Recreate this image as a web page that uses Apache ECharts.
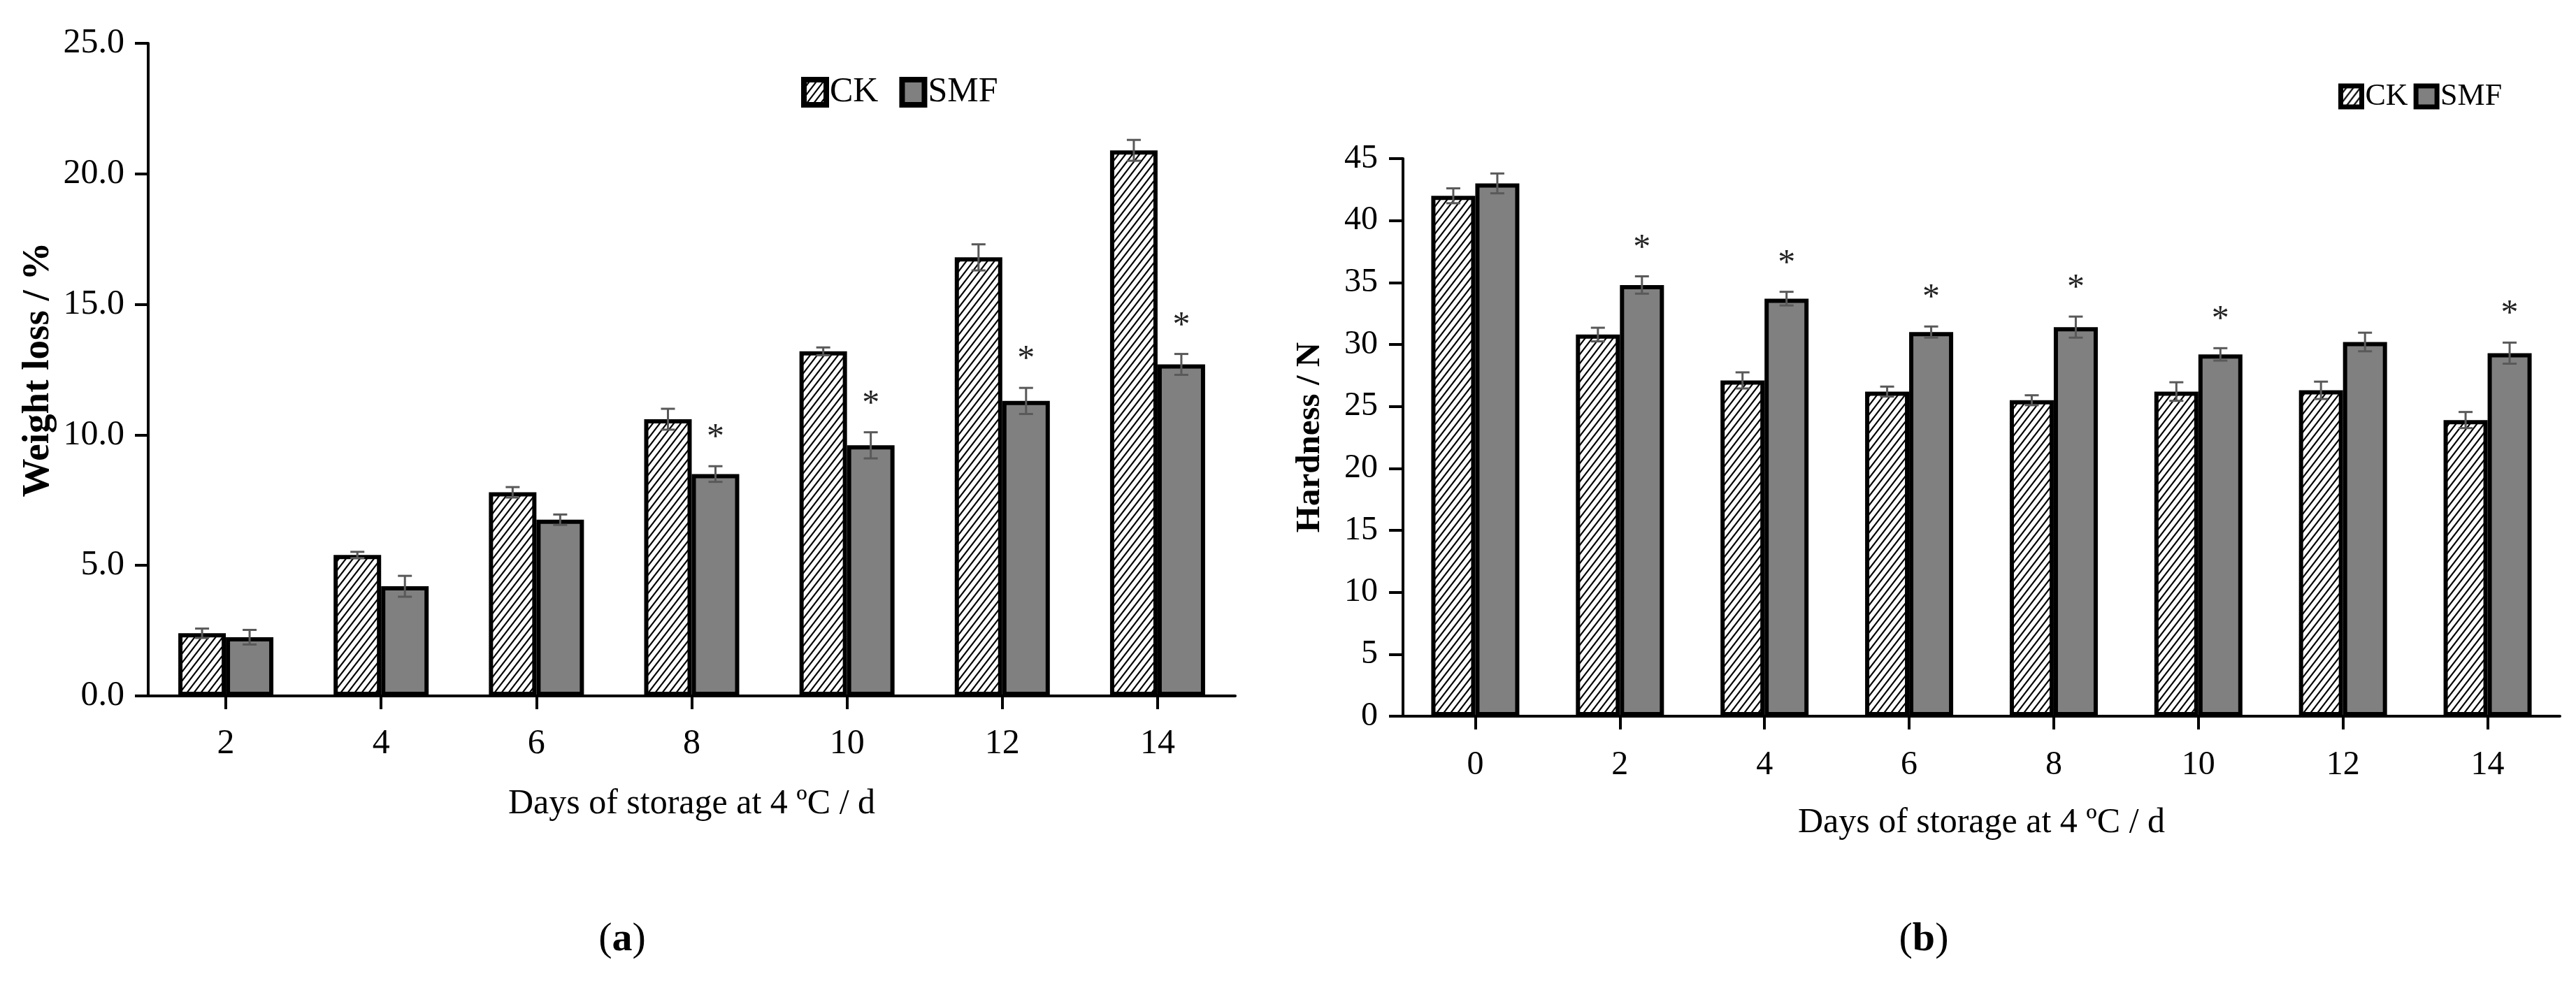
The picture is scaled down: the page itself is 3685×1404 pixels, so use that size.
<!DOCTYPE html>
<html>
<head>
<meta charset="utf-8">
<script src="https://cdn.jsdelivr.net/npm/echarts@6/dist/echarts.min.js"></script>
<style>
  html, body { margin: 0; padding: 0; background: #fff; }
  #main { width: 3685px; height: 1404px; }
</style>
</head>
<body>
<div id="main"></div>
<script>
// (a) weight loss
var daysA = ['2', '4', '6', '8', '10', '12', '14'];
var weightCK = [2.4, 5.4, 7.8, 10.6, 13.2, 16.8, 20.9];
var weightSMF = [2.25, 4.2, 6.75, 8.5, 9.6, 11.3, 12.7];
var weightCKErr = [0.18, 0.12, 0.2, 0.4, 0.15, 0.5, 0.4];
var weightSMFErr = [0.28, 0.4, 0.2, 0.3, 0.5, 0.5, 0.4];
var weightStar = [0, 0, 0, 1, 1, 1, 1];
var weightTicks = { min: 0, max: 25, interval: 5 };

// (b) hardness
var daysB = ['0', '2', '4', '6', '8', '10', '12', '14'];
var hardCK = [42.0, 30.8, 27.1, 26.2, 25.5, 26.2, 26.3, 23.9];
var hardSMF = [43.0, 34.8, 33.7, 31.0, 31.4, 29.2, 30.2, 29.3];
var hardCKErr = [0.6, 0.55, 0.65, 0.4, 0.4, 0.75, 0.7, 0.65];
var hardSMFErr = [0.8, 0.7, 0.55, 0.45, 0.85, 0.5, 0.75, 0.85];
var hardStar = [0, 1, 1, 1, 1, 1, 0, 1];
var hardTicks = { min: 0, max: 45, interval: 5 };

(function () {
  var FONT = '"Liberation Serif", "Times New Roman", serif';
  var myChart = echarts.init(document.getElementById('main'));

  // hatch tile for CK bars
  var tile = document.createElement('canvas');
  tile.width = 10;
  tile.height = 13;
  var ctx = tile.getContext('2d');
  ctx.fillStyle = '#fff';
  ctx.fillRect(0, 0, 10, 13);
  ctx.strokeStyle = '#000';
  ctx.lineWidth = 2.2;
  ctx.beginPath();
  ctx.moveTo(-1, 14.3); ctx.lineTo(11, -1.3);
  ctx.moveTo(-11, 14.3); ctx.lineTo(1, -1.3);
  ctx.moveTo(9, 14.3); ctx.lineTo(21, -1.3);
  ctx.stroke();
  var hatch = { image: tile, repeat: 'repeat' };

  function errData(cats, vals, errs, stars) {
    return cats.map(function (c, i) {
      return [i, vals[i], errs[i], stars ? stars[i] : 0];
    });
  }

  // error bar + asterisk
  function errRender(offset) {
    return function (params, api) {
      var cat = api.value(0), val = api.value(1), err = api.value(2), star = api.value(3);
      var top = api.coord([cat, val + err]);
      var bot = api.coord([cat, val - err]);
      var x = top[0] + offset;
      var st = { stroke: '#595959', lineWidth: 3 };
      var kids = [
        { type: 'line', shape: { x1: x, y1: top[1], x2: x, y2: bot[1] }, style: st },
        { type: 'line', shape: { x1: x - 10, y1: top[1], x2: x + 10, y2: top[1] }, style: st },
        { type: 'line', shape: { x1: x - 10, y1: bot[1], x2: x + 10, y2: bot[1] }, style: st }
      ];
      if (star) {
        kids.push({
          type: 'text', x: x, y: top[1] - 40,
          style: { text: '*', fontSize: 50, fontFamily: FONT, fill: '#222', align: 'center', verticalAlign: 'middle' }
        });
      }
      return { type: 'group', children: kids };
    };
  }

  var axisLine = { show: true, lineStyle: { color: '#000', width: 4 } };
  var axisTick = { show: true, length: 19, lineStyle: { color: '#000', width: 4 } };

  var option = {
    backgroundColor: '#fff',
    animation: false,
    legend: [{
      data: ['CK', 'SMF'],
      left: 1141, top: 102,
      itemWidth: 32, itemHeight: 36, itemGap: 30,
      icon: 'rect',
      itemStyle: { borderWidth: 8, borderColor: '#000' },
      textStyle: { fontFamily: FONT, fontSize: 50, color: '#000' }
    }, {
      data: ['CK', 'SMF'],
      left: 3340, top: 111,
      itemWidth: 30, itemHeight: 30, itemGap: 8,
      icon: 'rect',
      itemStyle: { borderWidth: 7, borderColor: '#000' },
      textStyle: { fontFamily: FONT, fontSize: 44, color: '#000' }
    }],
    grid: [
      { left: 212, top: 62, width: 1555, height: 934 },
      { left: 2007, top: 227, width: 1655, height: 798 }
    ],
    xAxis: [{
      type: 'category', gridIndex: 0, data: daysA,
      axisLine: axisLine,
      axisTick: { show: true, alignWithLabel: true, length: 19, lineStyle: { color: '#000', width: 4 } },
      axisLabel: { margin: 44, fontFamily: FONT, fontSize: 50, color: '#000' },
      name: 'Days of storage at 4 ºC / d', nameLocation: 'middle', nameGap: 130,
      nameTextStyle: { fontFamily: FONT, fontSize: 50, color: '#000' }
    }, {
      type: 'category', gridIndex: 1, data: daysB,
      axisLine: axisLine,
      axisTick: { show: true, alignWithLabel: true, length: 19, lineStyle: { color: '#000', width: 4 } },
      axisLabel: { margin: 46, fontFamily: FONT, fontSize: 48, color: '#000' },
      name: 'Days of storage at 4 ºC / d', nameLocation: 'middle', nameGap: 128,
      nameTextStyle: { fontFamily: FONT, fontSize: 50, color: '#000' }
    }],
    yAxis: [{
      type: 'value', gridIndex: 0,
      min: weightTicks.min, max: weightTicks.max, interval: weightTicks.interval,
      axisLine: axisLine, axisTick: axisTick,
      splitLine: { show: false },
      axisLabel: {
        margin: 34, fontFamily: FONT, fontSize: 50, color: '#000',
        formatter: function (v) { return v.toFixed(1); }
      },
      name: 'Weight loss / %', nameLocation: 'middle', nameRotate: 90, nameGap: 130,
      nameTextStyle: { fontFamily: FONT, fontSize: 55, fontWeight: 'bold', color: '#000' }
    }, {
      type: 'value', gridIndex: 1,
      min: hardTicks.min, max: hardTicks.max, interval: hardTicks.interval,
      axisLine: axisLine, axisTick: { show: true, length: 20, lineStyle: { color: '#000', width: 4 } },
      splitLine: { show: false },
      axisLabel: { margin: 36, fontFamily: FONT, fontSize: 48, color: '#000' },
      name: 'Hardness / N', nameLocation: 'middle', nameRotate: 90, nameGap: 108,
      nameTextStyle: { fontFamily: FONT, fontSize: 49, fontWeight: 'bold', color: '#000' }
    }],
    series: [
      {
        name: 'CK', type: 'bar', xAxisIndex: 0, yAxisIndex: 0, data: weightCK,
        barWidth: 68, barGap: '0%',
        itemStyle: { color: hatch, borderColor: '#000', borderWidth: 6 }
      },
      {
        name: 'SMF', type: 'bar', xAxisIndex: 0, yAxisIndex: 0, data: weightSMF,
        barWidth: 68, barGap: '0%',
        itemStyle: { color: '#808080', borderColor: '#000', borderWidth: 6 }
      },
      {
        name: 'CK', type: 'bar', xAxisIndex: 1, yAxisIndex: 1, data: hardCK,
        barWidth: 63, barGap: '0%',
        itemStyle: { color: hatch, borderColor: '#000', borderWidth: 6 }
      },
      {
        name: 'SMF', type: 'bar', xAxisIndex: 1, yAxisIndex: 1, data: hardSMF,
        barWidth: 63, barGap: '0%',
        itemStyle: { color: '#808080', borderColor: '#000', borderWidth: 6 }
      },
      {
        type: 'custom', xAxisIndex: 0, yAxisIndex: 0, z: 5,
        renderItem: errRender(-34), data: errData(daysA, weightCK, weightCKErr)
      },
      {
        type: 'custom', xAxisIndex: 0, yAxisIndex: 0, z: 5,
        renderItem: errRender(34), data: errData(daysA, weightSMF, weightSMFErr, weightStar)
      },
      {
        type: 'custom', xAxisIndex: 1, yAxisIndex: 1, z: 5,
        renderItem: errRender(-31.5), data: errData(daysB, hardCK, hardCKErr)
      },
      {
        type: 'custom', xAxisIndex: 1, yAxisIndex: 1, z: 5,
        renderItem: errRender(31.5), data: errData(daysB, hardSMF, hardSMFErr, hardStar)
      }
    ],
    graphic: [{
      type: 'text', x: 890, y: 1345,
      style: {
        text: '{n|(}{b|a}{n|)}', align: 'center', verticalAlign: 'middle',
        rich: {
          n: { fontFamily: FONT, fontSize: 58, fill: '#000' },
          b: { fontFamily: FONT, fontSize: 58, fontWeight: 'bold', fill: '#000' }
        }
      }
    }, {
      type: 'text', x: 2752, y: 1345,
      style: {
        text: '{n|(}{b|b}{n|)}', align: 'center', verticalAlign: 'middle',
        rich: {
          n: { fontFamily: FONT, fontSize: 58, fill: '#000' },
          b: { fontFamily: FONT, fontSize: 58, fontWeight: 'bold', fill: '#000' }
        }
      }
    }]
  };

  myChart.setOption(option);
  window.addEventListener('resize', function () {
    myChart.resize();
  });
})();
</script>
</body>
</html>
